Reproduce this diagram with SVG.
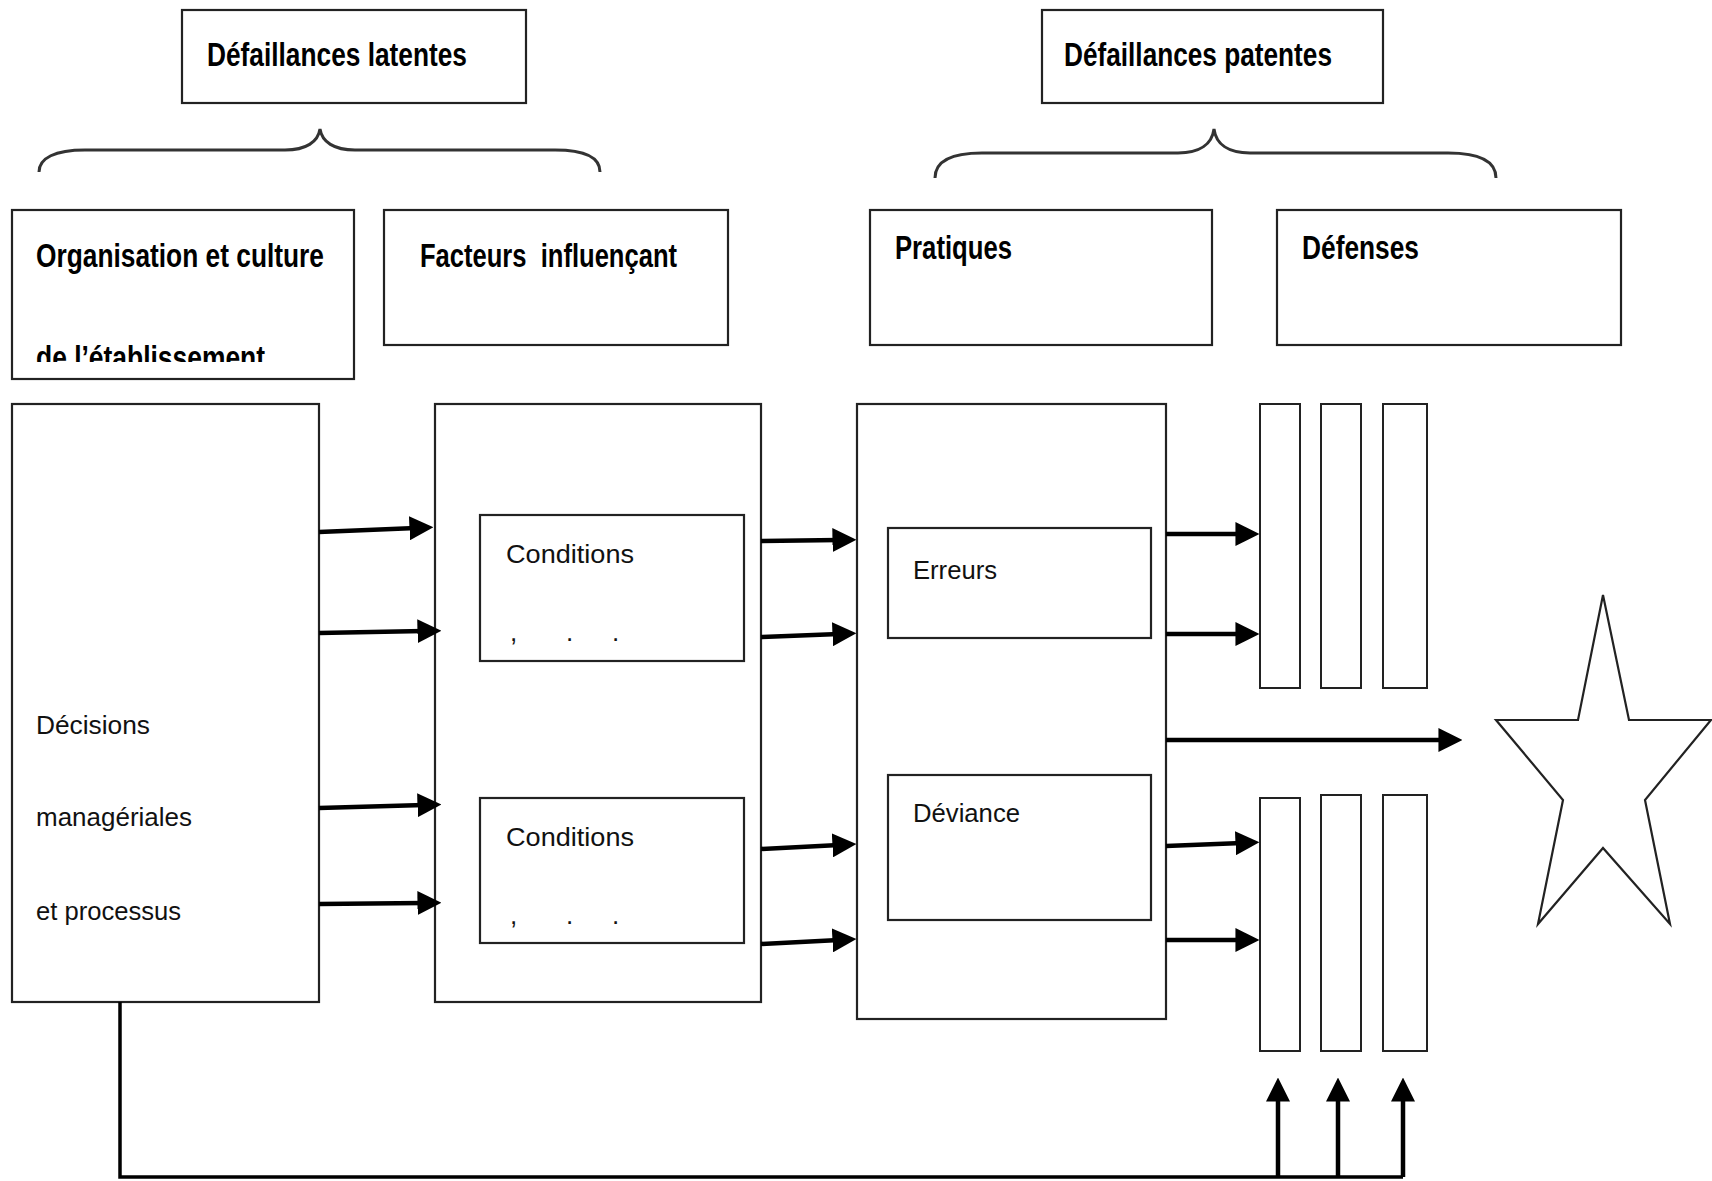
<svg xmlns="http://www.w3.org/2000/svg" width="1712" height="1181" viewBox="0 0 1712 1181">
<style>
.box{fill:#fff;stroke:#222;stroke-width:2.2}
.bar{fill:#fff;stroke:#222;stroke-width:2}
.hdr{font-family:"Liberation Sans",Arial,sans-serif;font-weight:bold;font-size:33px;fill:#000}
.lbl{font-family:"Liberation Sans",Arial,sans-serif;font-size:26px;fill:#111}
.brace{fill:none;stroke:#333;stroke-width:3}
.arr{fill:none;stroke:#000;stroke-width:4.5}
.ln{fill:none;stroke:#000;stroke-width:3.5}
</style>
<defs>
<marker id="ah" markerUnits="userSpaceOnUse" markerWidth="24" markerHeight="24" viewBox="0 0 22 22" refX="6" refY="11" orient="auto">
<path d="M0,0 L22,11 L0,22 z" fill="#000"/>
</marker>
<clipPath id="clipOrg"><rect x="12" y="210" width="342" height="152"/></clipPath>
</defs>
<rect width="1712" height="1181" fill="#fff"/>

<g id="defaillances-latentes">
<rect class="box" x="182" y="10" width="344" height="93"/>
<text class="hdr" x="207" y="66" textLength="260" lengthAdjust="spacingAndGlyphs">Défaillances latentes</text>
</g>
<g id="defaillances-patentes">
<rect class="box" x="1042" y="10" width="341" height="93"/>
<text class="hdr" x="1064" y="66" textLength="268" lengthAdjust="spacingAndGlyphs">Défaillances patentes</text>
</g>

<g id="brace-latentes">
<path class="brace" d="M39,172 C39,158 55,150 85,150 L285,150 C306,150 318,142 320,129 C322,142 334,150 355,150 L555,150 C585,150 600,158 600,172"/>
</g>
<g id="brace-patentes">
<path class="brace" d="M935,178 C935,162 950,153 982,153 L1178,153 C1200,153 1212,144 1214,129 C1216,144 1228,153 1250,153 L1448,153 C1480,153 1496,162 1496,178"/>
</g>

<g id="organisation">
<rect class="box" x="12" y="210" width="342" height="169"/>
<text class="hdr" x="36" y="267" textLength="288" lengthAdjust="spacingAndGlyphs">Organisation et culture</text>
<text class="hdr" x="36" y="369" textLength="229" lengthAdjust="spacingAndGlyphs" clip-path="url(#clipOrg)">de l’établissement</text>
</g>
<g id="facteurs">
<rect class="box" x="384" y="210" width="344" height="135"/>
<text class="hdr" x="420" y="267" textLength="257" lengthAdjust="spacingAndGlyphs" xml:space="preserve">Facteurs  influençant</text>
</g>
<g id="pratiques">
<rect class="box" x="870" y="210" width="342" height="135"/>
<text class="hdr" x="895" y="259" textLength="117" lengthAdjust="spacingAndGlyphs">Pratiques</text>
</g>
<g id="defenses">
<rect class="box" x="1277" y="210" width="344" height="135"/>
<text class="hdr" x="1302" y="259" textLength="117" lengthAdjust="spacingAndGlyphs">Défenses</text>
</g>

<g id="decisions">
<rect class="box" x="12" y="404" width="307" height="598"/>
<text class="lbl" x="36" y="734" textLength="114" lengthAdjust="spacingAndGlyphs">Décisions</text>
<text class="lbl" x="36" y="826" textLength="156" lengthAdjust="spacingAndGlyphs">managériales</text>
<text class="lbl" x="36" y="920" textLength="145" lengthAdjust="spacingAndGlyphs">et processus</text>
</g>

<g id="facteurs-bloc">
<rect class="box" x="435" y="404" width="326" height="598"/>
</g>
<g id="conditions-1">
<rect class="box" x="480" y="515" width="264" height="146"/>
<text class="lbl" x="506" y="563" textLength="128" lengthAdjust="spacingAndGlyphs">Conditions</text>
<text class="lbl" x="510 566 612" y="641">,..</text>
</g>
<g id="conditions-2">
<rect class="box" x="480" y="798" width="264" height="145"/>
<text class="lbl" x="506" y="846" textLength="128" lengthAdjust="spacingAndGlyphs">Conditions</text>
<text class="lbl" x="510 566 612" y="924">,..</text>
</g>

<g id="pratiques-bloc">
<rect class="box" x="857" y="404" width="309" height="615"/>
</g>
<g id="erreurs">
<rect class="box" x="888" y="528" width="263" height="110"/>
<text class="lbl" x="913" y="579" textLength="84" lengthAdjust="spacingAndGlyphs">Erreurs</text>
</g>
<g id="deviance">
<rect class="box" x="888" y="775" width="263" height="145"/>
<text class="lbl" x="913" y="822" textLength="107" lengthAdjust="spacingAndGlyphs">Déviance</text>
</g>

<g id="barrieres-haut">
<rect class="bar" x="1260" y="404" width="40" height="284"/>
<rect class="bar" x="1321" y="404" width="40" height="284"/>
<rect class="bar" x="1383" y="404" width="44" height="284"/>
</g>
<g id="barrieres-bas">
<rect class="bar" x="1260" y="798" width="40" height="253"/>
<rect class="bar" x="1321" y="795" width="40" height="256"/>
<rect class="bar" x="1383" y="795" width="44" height="256"/>
</g>

<g id="accident">
<polygon points="1603,595 1629,720 1711,720 1645,800 1670,924 1603,848 1538,924 1563,800 1496,720 1578,720" fill="#fff" stroke="#222" stroke-width="2.2" stroke-linejoin="miter"/>
</g>

<g id="connectors">
<line class="arr" x1="319" y1="532" x2="416" y2="528" marker-end="url(#ah)"/>
<line class="arr" x1="319" y1="633" x2="424" y2="631" marker-end="url(#ah)"/>
<line class="arr" x1="319" y1="808" x2="424" y2="805" marker-end="url(#ah)"/>
<line class="arr" x1="319" y1="904" x2="424" y2="903" marker-end="url(#ah)"/>

<line class="arr" x1="761" y1="541" x2="839" y2="540" marker-end="url(#ah)"/>
<line class="arr" x1="761" y1="637" x2="839" y2="634" marker-end="url(#ah)"/>
<line class="arr" x1="761" y1="849" x2="839" y2="845" marker-end="url(#ah)"/>
<line class="arr" x1="761" y1="944" x2="839" y2="940" marker-end="url(#ah)"/>

<line class="arr" x1="1166" y1="534" x2="1242" y2="534" marker-end="url(#ah)"/>
<line class="arr" x1="1166" y1="634" x2="1242" y2="634" marker-end="url(#ah)"/>
<line class="arr" x1="1166" y1="846" x2="1242" y2="843" marker-end="url(#ah)"/>
<line class="arr" x1="1166" y1="940" x2="1242" y2="940" marker-end="url(#ah)"/>
<line class="arr" x1="1166" y1="740" x2="1445" y2="740" marker-end="url(#ah)"/>

<polyline class="ln" points="120,1002 120,1177 1403,1177"/>
<line class="arr" x1="1278" y1="1177" x2="1278" y2="1095" marker-end="url(#ah)"/>
<line class="arr" x1="1338" y1="1177" x2="1338" y2="1095" marker-end="url(#ah)"/>
<line class="arr" x1="1403" y1="1177" x2="1403" y2="1095" marker-end="url(#ah)"/>
</g>
</svg>
